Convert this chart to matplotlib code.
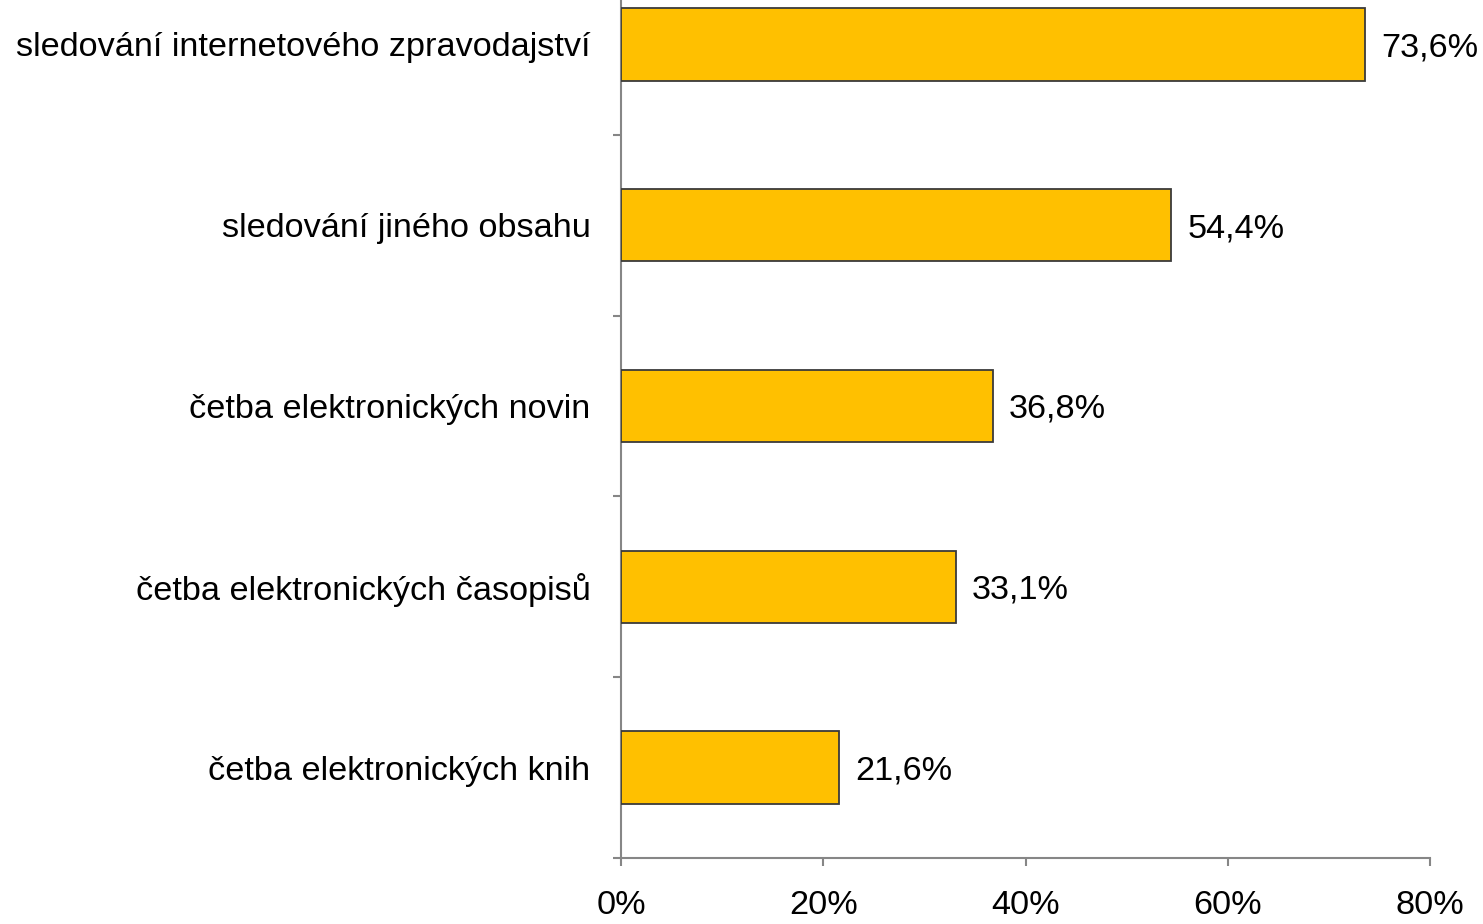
import matplotlib
matplotlib.use("Agg")
import matplotlib.pyplot as plt
from matplotlib.ticker import FixedLocator, NullFormatter

plt.rcParams['font.family'] = ['Liberation Sans', 'DejaVu Sans']

categories = [
    "sledování internetového zpravodajství",
    "sledování jiného obsahu",
    "četba elektronických novin",
    "četba elektronických časopisů",
    "četba elektronických knih",
]
values = [73.6, 54.4, 36.8, 33.1, 21.6]
xticks = [0, 20, 40, 60, 80]
xtick_labels = ["0%", "20%", "40%", "60%", "80%"]

W, H = 1483, 924
FS = 24.7
fig = plt.figure(figsize=(W / 100, H / 100), dpi=100)
ax = fig.add_axes([621 / W, 66 / H, 809 / W, 904 / H])

axis_color = "#868686"
n = len(categories)
ypos = list(range(n - 1, -1, -1))
ax.barh(ypos, values, height=0.40, color="#FFC000", edgecolor="#3a3a3a",
        linewidth=1.3, zorder=3)

for y, v in zip(ypos, values):
    ax.annotate(f"{v:.1f}%".replace(".", ","), xy=(v, y), xytext=(16, 0),
                textcoords="offset pixels", va="center_baseline", ha="left",
                fontsize=FS, color="black")

ax.set_xlim(0, 80)
ax.set_ylim(-0.5, n - 0.5)

ax.set_xticks(xticks)
ax.set_xticklabels(xtick_labels, fontsize=FS)
ax.tick_params(axis="x", length=6, width=1.5, color=axis_color, pad=17)

ax.set_yticks(ypos)
ax.set_yticklabels(categories, fontsize=FS, va="center_baseline")
ax.tick_params(axis="y", which="major", length=0, pad=22)
ax.yaxis.set_minor_locator(FixedLocator([i - 0.5 for i in range(n + 1)]))
ax.yaxis.set_minor_formatter(NullFormatter())
ax.tick_params(axis="y", which="minor", length=6, width=1.5, color=axis_color)

for side in ("top", "right"):
    ax.spines[side].set_visible(False)
for side in ("left", "bottom"):
    ax.spines[side].set_color(axis_color)
    ax.spines[side].set_linewidth(1.5)

fig.savefig("out.png", dpi=100)
